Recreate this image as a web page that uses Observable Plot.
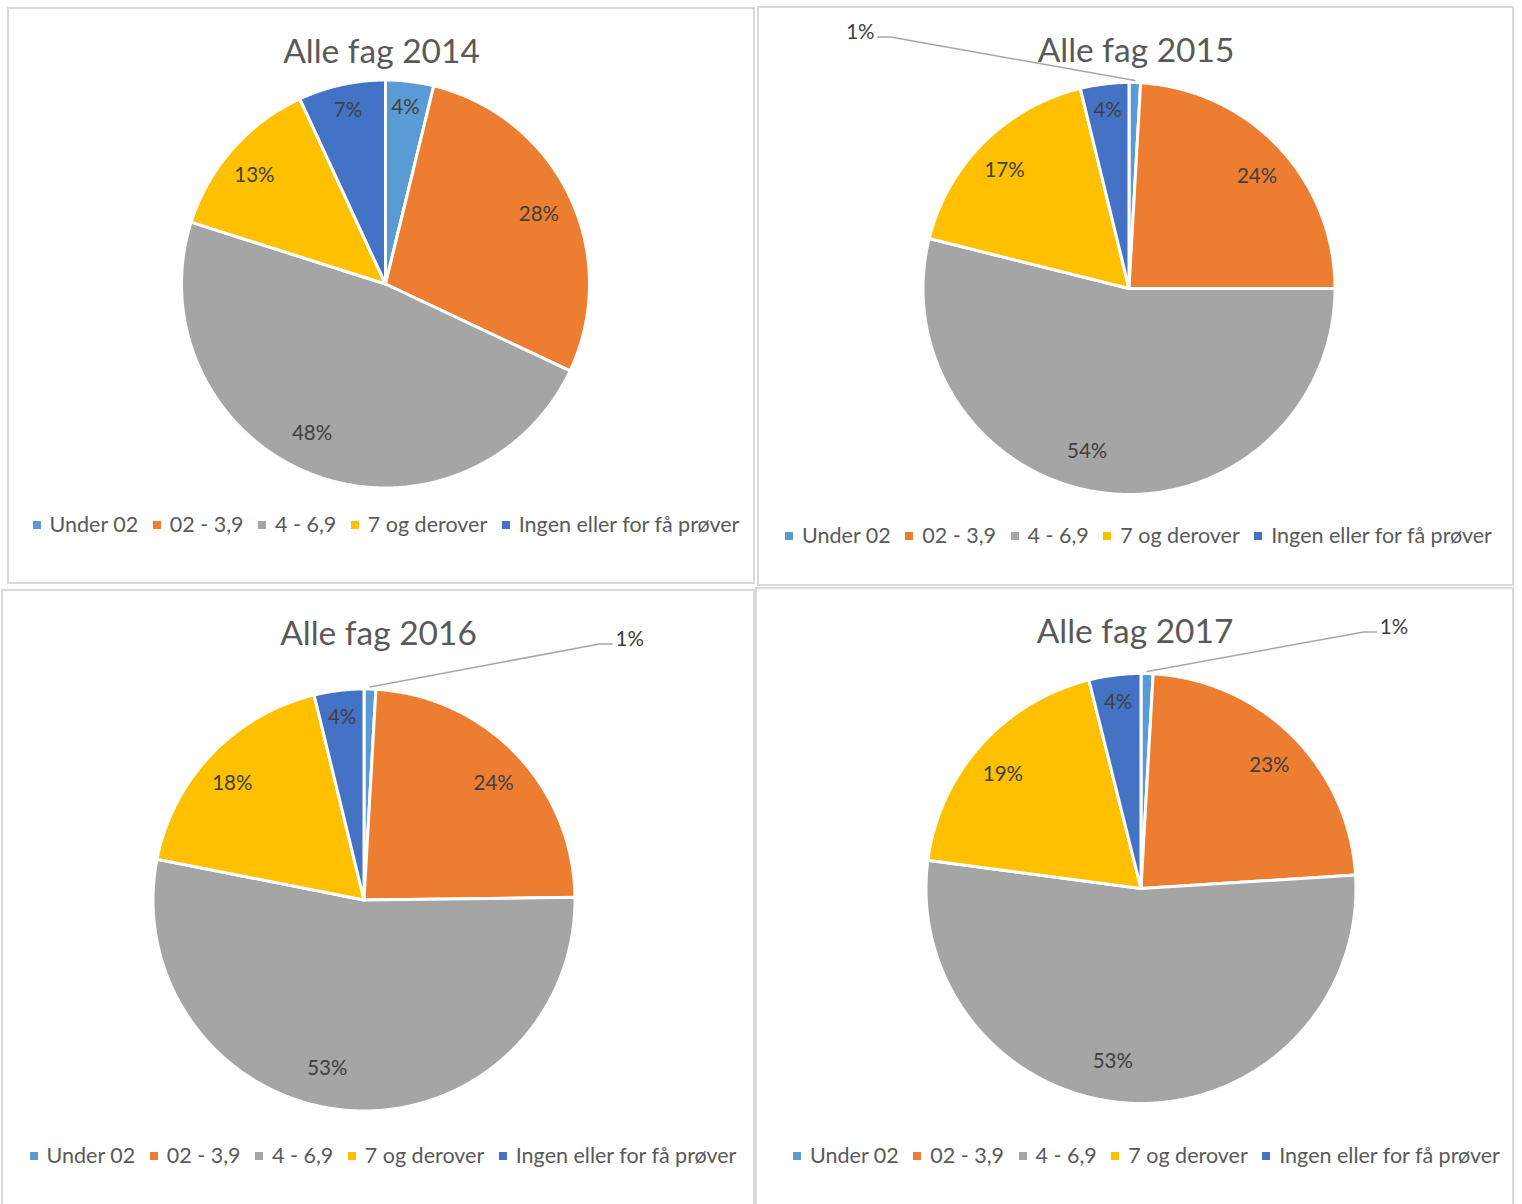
<!DOCTYPE html>
<html><head><meta charset="utf-8">
<script src="https://cdn.jsdelivr.net/npm/d3@7"></script>
<script src="https://cdn.jsdelivr.net/npm/@observablehq/plot@0.6"></script>
<style>
body{margin:0;background:#fff;width:1522px;height:1204px;overflow:hidden;position:relative;font-family:Lato,sans-serif;}
.panel{position:absolute;box-sizing:border-box;border:2px solid #dadada;background:#fff;overflow:hidden;}
.panel svg{position:absolute;left:0;top:0;}
.legend{position:absolute;left:0;right:0;display:flex;justify-content:center;align-items:center;gap:14.5px;font-size:21.5px;color:#595959;white-space:nowrap;line-height:1;}
.legend .sw{display:inline-block;width:8px;height:8px;margin-right:9px;}
</style></head><body>
<script>
const categories = ["Under 02","02 - 3,9","4 - 6,9","7 og derover","Ingen eller for få prøver"];
const colors = ["#5B9BD5","#ED7D31","#A5A5A5","#FFC000","#4472C4"];
const titles = ["Alle fag 2014","Alle fag 2015","Alle fag 2016","Alle fag 2017"];
const values2014 = [3.8, 28.2, 47.9, 13.2, 6.9];
const values2015 = [0.9, 24.1, 53.9, 17.3, 3.8];
const values2016 = [0.9, 23.9, 53.3, 18.1, 3.8];
const values2017 = [0.9, 23.1, 53.1, 19.0, 3.9];

// layout (page pixels); label placement: radius factor and angular nudge (deg) per slice
const labelRadius = [0.87, 0.826, 0.815, 0.833, 0.87];
const panels = [
  {title: titles[0], values: values2014, left: 7,   top: 7,   w: 748, h: 577, pcx: 385,    pcy: 283.5, r: 204, legendY: 518, legendDx: 5,  nudge: [-0.4, 1.1, 4.8, -1.9, 0.2], callout: null},
  {title: titles[1], values: values2015, left: 757, top: 6,   w: 757, h: 580, pcx: 1128.5, pcy: 288,   r: 206, legendY: 530, legendDx: 3,  nudge: [0, 2.2, 7.4, -1.7, 0], callout: {tx: -254.5, ty: -256, side: -1}},
  {title: titles[2], values: values2016, left: 1,   top: 589, w: 754, h: 625, pcx: 363.5,  pcy: 899.5, r: 211, legendY: 567, legendDx: 5,  nudge: [0, 1.8, 7.1, -2.3, 0], callout: {tx: 251.5, ty: -260.5, side: 1}},
  {title: titles[3], values: values2017, left: 755, top: 587, w: 759, h: 625, pcx: 1140.5, pcy: 888,   r: 215, legendY: 569, legendDx: 12, nudge: [0, 1.5, 7.3, -2.2, 0], callout: {tx: 238.8, ty: -261, side: 1}}
];
const B = 2; // border width

function slicesOf(values) {
  const pie = d3.pie().sort(null).value(d => d.v).startAngle(0).endAngle(2 * Math.PI);
  return pie(values.map((v, i) => ({cat: categories[i], v, i})));
}

for (const p of panels) {
  const W = p.w - 2 * B, H = p.h - 2 * B;
  const cx = p.pcx - p.left - B, cy = p.pcy - p.top - B;
  const arcs = slicesOf(p.values);
  const pts = [];
  for (const a of arcs) {
    pts.push({cat: a.data.cat, x: 0, y: 0});
    const n = Math.max(2, Math.ceil((a.endAngle - a.startAngle) / (Math.PI / 360)));
    for (let k = 0; k <= n; k++) {
      const t = a.startAngle + (a.endAngle - a.startAngle) * k / n;
      pts.push({cat: a.data.cat, x: p.r * Math.sin(t), y: -p.r * Math.cos(t)});
    }
  }
  const inside = [], outside = [], leader = [];
  for (const a of arcs) {
    const pct = Math.round(a.data.v) + "%";
    const mid = (a.startAngle + a.endAngle) / 2;
    if (a.data.v < 2 && p.callout) {
      const c = p.callout;
      outside.push({x: c.tx, y: c.ty, label: pct});
      const ey = c.ty + 4.5;
      leader.push({x: p.r * 1.01 * Math.sin(mid), y: -p.r * 1.01 * Math.cos(mid)});
      leader.push({x: c.tx - c.side * 16, y: ey});
      leader.push({x: c.tx - c.side * 3.5, y: ey});
    } else {
      const f = labelRadius[a.data.i];
      const t = mid + p.nudge[a.data.i] * Math.PI / 180;
      inside.push({x: f * p.r * Math.sin(t), y: -f * p.r * Math.cos(t), label: pct});
    }
  }
  const marks = [
    Plot.line(pts, {x: "x", y: "y", z: "cat", fill: "cat", stroke: "white", strokeWidth: 3, curve: "linear-closed", strokeLinejoin: "round"}),
    Plot.text(inside, {x: "x", y: "y", text: "label", fill: "#404040", fontSize: 20.5}),
    Plot.text([p.title], {frameAnchor: "top", dy: 30, fill: "#595959", fontSize: 33.5})
  ];
  if (p.callout) {
    marks.push(Plot.line(leader, {x: "x", y: "y", stroke: "#a6a6a6", strokeWidth: 1.5}));
    marks.push(Plot.text(outside, {x: "x", y: "y", text: "label", fill: "#404040", fontSize: 20.5, textAnchor: p.callout.side < 0 ? "end" : "start"}));
  }
  const chart = Plot.plot({
    width: W, height: H, margin: 0,
    style: {fontFamily: "Lato, sans-serif", background: "transparent"},
    x: {domain: [-cx, W - cx], range: [0, W], axis: null},
    y: {domain: [-cy, H - cy], range: [0, H], axis: null},
    color: {domain: categories, range: colors},
    marks
  });
  const div = document.createElement("div");
  div.className = "panel";
  Object.assign(div.style, {left: p.left + "px", top: p.top + "px", width: p.w + "px", height: p.h + "px"});
  div.appendChild(chart);
  const leg = document.createElement("div");
  leg.className = "legend";
  leg.style.top = (p.legendY - B - 10) + "px";
  leg.style.left = (2 * p.legendDx) + "px";
  leg.style.height = "20px";
  categories.forEach((c, i) => {
    const it = document.createElement("span");
    it.style.display = "inline-flex"; it.style.alignItems = "center";
    it.innerHTML = `<span class="sw" style="background:${colors[i]}"></span>${c}`;
    leg.appendChild(it);
  });
  div.appendChild(leg);
  document.body.appendChild(div);
}
</script>
</body></html>
